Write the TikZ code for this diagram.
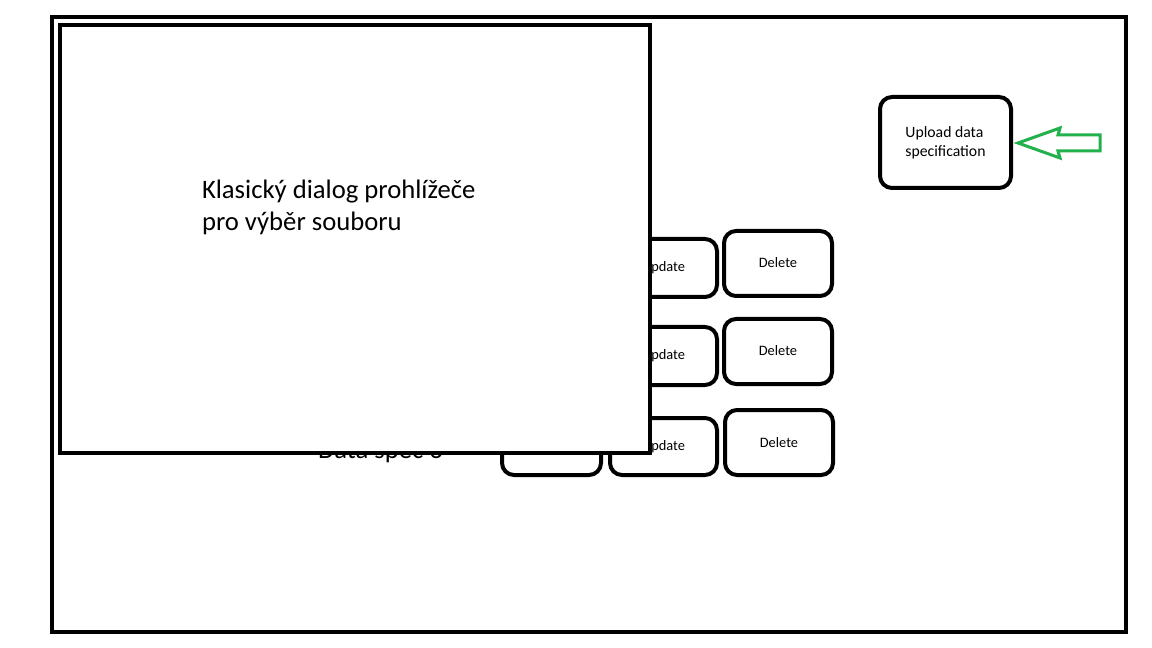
\documentclass[tikz,border=0pt]{standalone}
\usepackage{fontspec}
\setmainfont{Carlito}
\definecolor{paintgreen}{RGB}{34,177,76}
\begin{document}
\begin{tikzpicture}[x=0.75pt,y=-0.75pt,
  frame/.style={draw=black,line width=3pt,rectangle,inner sep=0pt,outer sep=0pt},
  btn/.style={draw=black,line width=3pt,rounded corners=9pt,rectangle,inner sep=0pt,outer sep=0pt,font=\fontsize{10.8pt}{13pt}\selectfont},
  bigtxt/.style={font=\fontsize{20pt}{24pt}\selectfont,inner sep=0pt,outer sep=0pt}]
\useasboundingbox (0,0) rectangle (1152,648);
\fill[white] (0,0) rectangle (1152,648);
% outer frame
\node[frame,minimum width=805.5pt,minimum height=461.25pt] (outer) at (589,324.5) {};
% buttons
\node[btn,minimum width=81pt,minimum height=48.75pt] (del1) at (778,263.5) {\raisebox{2pt}{Delete}};
\node[btn,minimum width=81pt,minimum height=48.75pt] (del2) at (778,351.5) {\raisebox{2pt}{Delete}};
\node[btn,minimum width=81pt,minimum height=48.75pt] (del3) at (779,442.5) {Delete};
\node[btn,minimum width=80.25pt,minimum height=43.5pt] (upd1) at (663.5,268) {Update};
\node[btn,minimum width=80.25pt,minimum height=43.5pt] (upd2) at (663.5,356) {Update};
\node[btn,minimum width=80.25pt,minimum height=42.75pt] (upd3) at (663.5,446.5) {Update};
\node[btn,minimum width=74.25pt,minimum height=42.75pt] (btn3) at (551.5,446.5) {};
% hidden label behind dialog
\node[bigtxt,anchor=base west] (spec3) at (318,458) {Data spec 3};
% upload button
\node[btn,minimum width=98.25pt,minimum height=68.25pt,align=left,font=\fontsize{11.8pt}{14.25pt}\selectfont] (upload) at (945.5,142.5) {Upload data\\specification};
% green arrow
\coordinate (tip) at (1018,143);
\draw[paintgreen,line width=2.25pt,line join=miter]
  (tip) -- (1060,128) -- (1058,135) -- (1100,135) -- (1100,151) -- (1058,151) -- (1060,158) -- cycle;
% dialog on top
\node[frame,fill=white,minimum width=442.5pt,minimum height=321pt] (dialog) at (355,239) {};
\node[bigtxt,anchor=base west,align=left] (dlgtxt) at (202,231) {Klasický dialog prohlížeče\\pro výběr souboru};
\end{tikzpicture}
\end{document}
